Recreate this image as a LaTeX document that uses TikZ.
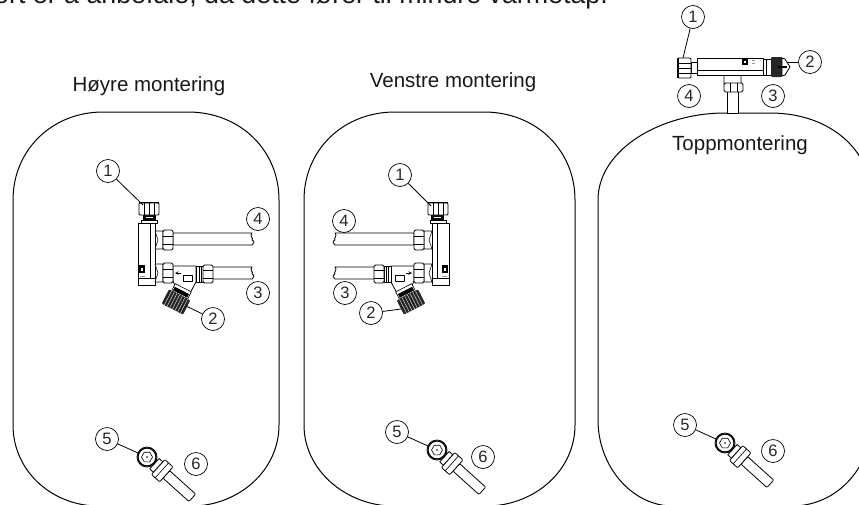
\documentclass[tikz,border=0pt]{standalone}
\usepackage{fontspec}
\setmainfont{Liberation Sans}
\tikzset{
  line/.style={draw=black,line width=0.8pt,line join=round},
  fine/.style={draw=black,line width=0.6pt,line join=round},
  tank/.style={draw=black,line width=1pt},
  tag/.style={circle,draw=black,line width=0.7pt,minimum size=23pt,inner sep=0pt,font=\fontsize{16.5}{16.5}\selectfont,fill=white,text=black!85},
  lead/.style={draw=black,line width=0.8pt},
  title/.style={font=\fontsize{20.5}{22}\selectfont,text=black!90,inner sep=0pt,anchor=base},
  pics/valve/.style={code={
    % pipes
    \draw[line,fill=white] (173,233) -- (252,233) .. controls (249,236) and (254,238) .. (252,240) .. controls (255,241) and (254,244) .. (252,245) -- (173,245) -- cycle;
    \draw[line,fill=white] (212,267) -- (252,267) .. controls (249,270) and (254,272) .. (252,274) .. controls (255,275) and (254,278) .. (252,279) -- (212,279) -- cycle;
    % body
    \draw[line,fill=white] (138,223) rectangle (155,285);
    \draw[fine] (150,223) -- (150,278) (138,278) -- (155,278);
    \fill[black] (139,265) rectangle (145,273);
    \fill[white] (141,268) rectangle (143,271);
    \draw[fine,black!40] (140,276) -- (145,276);
    % upper cap
    \fill[black] (143,215) rectangle (156,220);
    \fill[white] (146,216.5) rectangle (153,218);
    \draw[fine,fill=white] (141,220) rectangle (157,223);
    \draw[line,fill=white,rounded corners=1pt] (139,203) rectangle (159,215);
    \draw[line width=1.6pt] (139,202.5) -- (159,202.5);
    \draw[fine] (144,203) -- (144,215) (149,203) -- (149,215) (154,203) -- (154,215);
    % tee cones
    \draw[fine,fill=white] (155,231) -- (163,231) -- (163,249) -- (155,249) -- (158,240) -- cycle;
    \draw[fine,fill=white] (155,264) -- (163,264) -- (163,282) -- (155,282) -- (158,273) -- cycle;
    % nuts
    \draw[line,fill=white,rounded corners=1.5pt] (163,230) rectangle (173,250);
    \draw[fine] (163,236) -- (173,236) (163,244) -- (173,244);
    % Y body
    \draw[line,fill=white] (173,266) -- (196,266) -- (196,282) -- (189,295) -- (176,288) -- (173,281) -- cycle;
    \draw[line,fill=white,rounded corners=1.5pt] (163,263) rectangle (173,283);
    \draw[fine] (163,269) -- (173,269) (163,277) -- (173,277);
    \draw[line,fill=white] (183,275) rectangle (192,281);
    \draw[fine,-stealth] (181,273) -- (175,273);
    % right nut
    \draw[fine,fill=white] (196,266) rectangle (203,282);
    \draw[fine] (199,266) -- (199,282) (201,266) -- (201,282);
    \draw[line,fill=white,rounded corners=1.5pt] (203,265) rectangle (213,283);
    \draw[fine] (203,270) -- (213,270) (203,278) -- (213,278);
    % cleaning cap
    \begin{scope}[shift={(176,302)},rotate=-27]
      \draw[fine,fill=white] (-9,-16) rectangle (9,-8);
      \fill[black] (-8,-13) rectangle (8,-9);
      \fill[black!85,rounded corners=1pt] (-12,-8) rectangle (12,8);
      \foreach \u in {-9,-6,-3,0,3,6,9}{\draw[white,line width=0.35pt] (\u,-8) -- (\u,8);}
    \end{scope}
  }},
  pics/probe/.style={code={
    \begin{scope}[rotate=-42]
      \draw[line,fill=white,rounded corners=1pt] (26,-5) -- (61,-5) -- (61,5) -- (26,5) -- cycle;
      \draw[line,fill=white] (10,-7) rectangle (15,7);
      \draw[line,fill=white,rounded corners=1pt] (15,-10) rectangle (26,10);
      \draw[fine] (20,-10) -- (20,10);
    \end{scope}
    \draw[line,fill=white] (0,0) circle (10);
    \draw[line width=1.2pt] (0,0) circle (9);
    \draw[fine] (5.5,0) -- (2.75,4.8) -- (-2.75,4.8) -- (-5.5,0) -- (-2.75,-4.8) -- (2.75,-4.8) -- cycle;
    \fill[black] (0,0) circle (0.8);
  }}
}
\begin{document}
\begin{tikzpicture}[x=1pt,y=-1pt]
\useasboundingbox (0,0) rectangle (859,504);
\clip (0,0) rectangle (859,504);

\node[font=\fontsize{26.8}{28}\selectfont,text=black!90,inner sep=0pt,anchor=base west] (intro) at (-6,3.5) {ort er å anbefale, da dette fører til mindre varmetap.};

% tanks
\draw[tank] (103,112) -- (188,112) .. controls (240,112) and (279,150) .. (279,200) -- (279,425) .. controls (279,470) and (240,504) .. (195,506) -- (95,506) .. controls (50,504) and (13,470) .. (13,425) -- (13,200) .. controls (13,150) and (52,112) .. (103,112) -- cycle;
\draw[tank] (395,112) -- (484,112) .. controls (536,112) and (575,150) .. (575,200) -- (575,425) .. controls (575,470) and (536,504) .. (490,506) -- (390,506) .. controls (345,504) and (304,470) .. (304,425) -- (304,200) .. controls (304,150) and (343,112) .. (395,112) -- cycle;
\draw[tank] (725,113) -- (770,113) .. controls (830,113) and (872,150) .. (872,200) -- (872,420) .. controls (872,465) and (840,504) .. (795,506) -- (670,506) .. controls (630,504) and (598,465) .. (598,420) -- (598,200) .. controls (598,150) and (660,113) .. (725,113) -- cycle;

% titles
\node[title] (t1) at (149,91) {Høyre montering};
\node[title] (t2) at (453,87) {Venstre montering};
\node[title] (t3) at (740,150) {Toppmontering};

% valves
\pic {valve};
\begin{scope}[xshift=587pt,xscale=-1]
  \pic[transform shape] {valve};
\end{scope}

% top valve
\draw[line,fill=white] (727,88) rectangle (738,113);
\draw[line,fill=white] (724,75) .. controls (727,72) and (738,72) .. (741,75) -- (741,84) -- (724,84) -- cycle;
\draw[line,fill=white,rounded corners=1.5pt] (724,83) rectangle (743,92);
\draw[fine] (730,83) -- (730,92) (737,83) -- (737,92);
\draw[line,fill=white] (697,58) -- (763,58) -- (763,75) -- (697,75) -- cycle;
\draw[fine] (697,70) -- (763,70);
\fill[black] (742,59) rectangle (748,65);
\fill[white] (744,61) rectangle (746,63);
\draw[fine,black!40] (752,60) -- (755,60) (752,63) -- (755,63);
\draw[fine,fill=white] (691,62) rectangle (697,73);
\draw[line,fill=white,rounded corners=1pt] (678,58) rectangle (691,78);
\draw[line width=1.6pt] (678,57.5) -- (678,78);
\draw[fine] (678,63) -- (691,63) (678,68) -- (691,68) (678,73) -- (691,73);
\draw[line,fill=white] (763,59) rectangle (771,75);
\draw[fine] (766,59) -- (766,75);
\fill[black!85,rounded corners=1pt] (771,57) rectangle (782,77);
\draw[line,fill=white] (782,58) -- (785,59) -- (790,67) -- (785,75) -- (782,76) -- cycle;
\draw[line width=1.4pt] (778,67) -- (787,67);

% probes
\pic at (147,457) {probe};
\pic at (437,450) {probe};
\pic at (725,443) {probe};

% tags and leader lines
\coordinate (a1) at (143,205);
\coordinate (a2) at (186,306);
\node[tag] (n1a) at (108,171) {1};
\node[tag] (n2a) at (213,319) {2};
\node[tag] (n3a) at (258,293) {3};
\node[tag] (n4a) at (258,219) {4};
\draw[lead] (n1a) -- (a1);
\draw[lead] (n2a) -- (a2);

\coordinate (b1) at (431,206);
\coordinate (b2) at (401,309);
\node[tag] (n1b) at (400,175) {1};
\node[tag] (n2b) at (371,313) {2};
\node[tag] (n3b) at (345,293) {3};
\node[tag] (n4b) at (344,221) {4};
\draw[lead] (n1b) -- (b1);
\draw[lead] (n2b) -- (b2);

\coordinate (c1) at (683,58);
\coordinate (c2) at (787,62);
\node[tag] (n1c) at (693,17) {1};
\node[tag] (n2c) at (810,62) {2};
\node[tag] (n3c) at (773,96) {3};
\node[tag] (n4c) at (689,96) {4};
\draw[lead] (n1c) -- (c1);
\draw[lead] (n2c) -- (c2);

\coordinate (d1) at (138,453);
\coordinate (d2) at (428,446);
\coordinate (d3) at (716,439);
\node[tag] (n5a) at (107,439) {5};
\node[tag] (n6a) at (196,464) {6};
\node[tag] (n5b) at (397,432) {5};
\node[tag] (n6b) at (483,457) {6};
\node[tag] (n5c) at (685,425) {5};
\node[tag] (n6c) at (773,451) {6};
\draw[lead] (n5a) -- (d1);
\draw[lead] (n5b) -- (d2);
\draw[lead] (n5c) -- (d3);
\end{tikzpicture}
\end{document}
